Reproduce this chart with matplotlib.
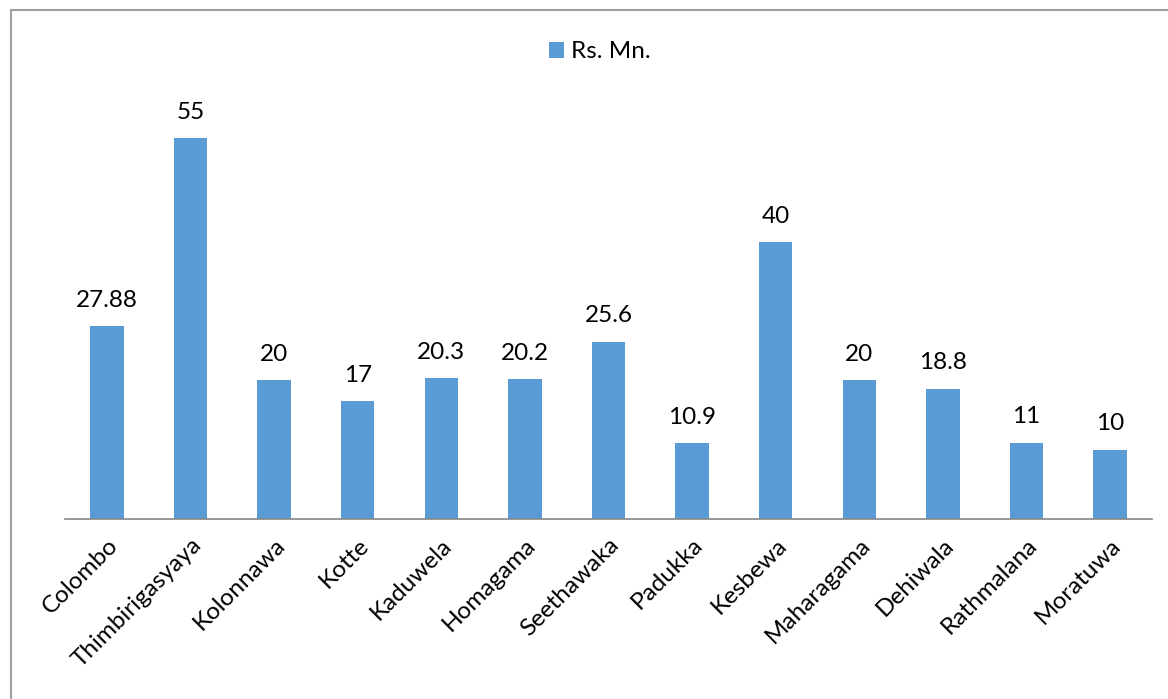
import matplotlib.pyplot as plt
from matplotlib.lines import Line2D

categories = ['Colombo', 'Thimbirigasyaya', 'Kolonnawa', 'Kotte', 'Kaduwela', 'Homagama',
              'Seethawaka', 'Padukka', 'Kesbewa', 'Maharagama', 'Dehiwala', 'Rathmalana', 'Moratuwa']
values = [27.88, 55, 20, 17, 20.3, 20.2, 25.6, 10.9, 40, 20, 18.8, 11, 10]
value_labels = ['27.88', '55', '20', '17', '20.3', '20.2', '25.6', '10.9', '40', '20', '18.8', '11', '10']
series_name = 'Rs. Mn.'

plt.rcParams['font.family'] = ['Lato', 'DejaVu Sans']
bar_color = '#5B9BD5'

fig = plt.figure(figsize=(11.68, 6.99), dpi=100)
ax = fig.add_axes([65 / 1168, 1 - 519 / 699, (1152 - 65) / 1168, 60 * 6.93 / 699])

x = range(len(categories))
bars = ax.bar(x, values, width=0.4, color=bar_color, label=series_name)
for b, lab in zip(bars, value_labels):
    ax.annotate(lab, (b.get_x() + b.get_width() / 2, b.get_height()),
                xytext=(0, 11), textcoords='offset points',
                ha='center', va='bottom', fontsize=17.5, color='#000000')

ax.set_xlim(-0.5, len(categories) - 0.5)
ax.set_ylim(0, 60)
ax.set_xticks(list(x))
ax.set_xticklabels(categories, rotation=45, ha='right', rotation_mode='anchor', fontsize=17.5)
ax.tick_params(axis='x', length=0, pad=11)
ax.set_yticks([])
for s in ['top', 'right', 'left']:
    ax.spines[s].set_visible(False)
ax.spines['bottom'].set_color('#868686')
ax.spines['bottom'].set_linewidth(1.2)

fig.legend(loc='center', bbox_to_anchor=(600 / 1168, 1 - 52 / 699), frameon=False,
           fontsize=17.5, handlelength=0.6, handleheight=0.6, handletextpad=0.3)

# chart border (only top and left visible in crop)
fig.add_artist(Line2D([11 / 1168, 1.0], [1 - 10 / 699, 1 - 10 / 699], transform=fig.transFigure,
                      color='#A0A0A0', linewidth=1.5))
fig.add_artist(Line2D([11 / 1168, 11 / 1168], [0, 1 - 10 / 699], transform=fig.transFigure,
                      color='#A0A0A0', linewidth=1.5))

fig.savefig('out.png', dpi=100)
